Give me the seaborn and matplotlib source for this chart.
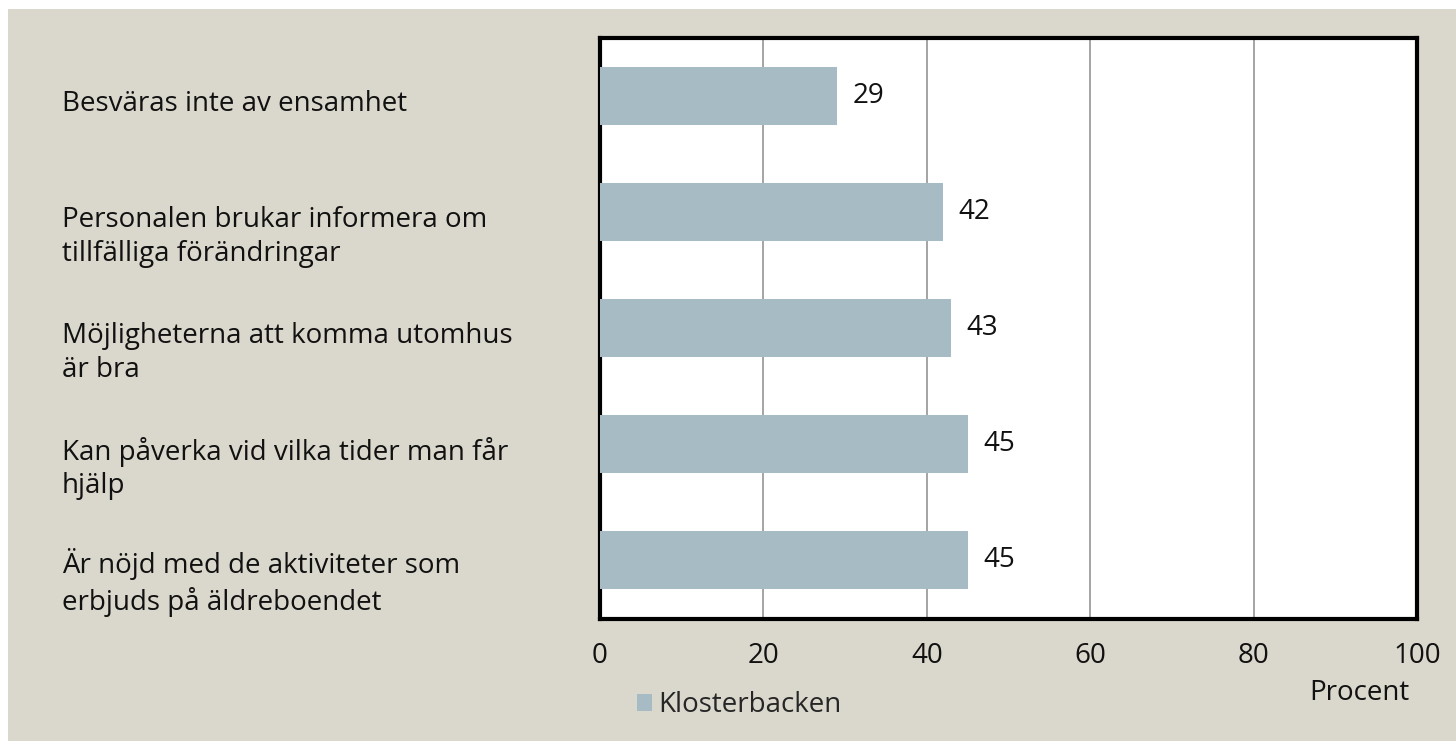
import matplotlib
matplotlib.use("Agg")
import matplotlib.pyplot as plt
import matplotlib.transforms as mtransforms
from matplotlib.patches import Rectangle
import pandas as pd
import seaborn as sns

# data
categories = [
    "Besväras inte av ensamhet",
    "Personalen brukar informera om\ntillfälliga förändringar",
    "Möjligheterna att komma utomhus\när bra",
    "Kan påverka vid vilka tider man får\nhjälp",
    "Är nöjd med de aktiviteter som\nerbjuds på äldreboendet",
]
values = [29, 42, 43, 45, 45]
series_name = "Klosterbacken"
x_ticks = [0, 20, 40, 60, 80, 100]
x_label = "Procent"

BG = "#DAD8CC"
BAR = "#A7BBC5"
FS = 20

sns.set_theme(style="white")
plt.rcParams["font.family"] = ["Open Sans", "DejaVu Sans"]

W, H = 1456, 741
fig = plt.figure(figsize=(W / 100, H / 100), dpi=100, facecolor="white")
# beige panel behind everything (small white margin top/left)
fig.patches.append(Rectangle((8 / W, 0), 1, 1 - 9 / H, transform=fig.transFigure,
                             facecolor=BG, edgecolor="none", zorder=-10))

ax = fig.add_axes([600 / W, 1 - 618.5 / H, 817 / W, 581 / H])
ax.set_facecolor("white")

df = pd.DataFrame({"category": categories, "value": values})
sns.barplot(data=df, x="value", y="category", orient="h", color=BAR,
            width=0.5, saturation=1, label=series_name, ax=ax, zorder=3,
            edgecolor=BAR, linewidth=0)

ax.set_xlim(0, 100)
ax.set_ylim(len(categories) - 0.5, -0.5)
ax.set_xticks(x_ticks)
ax.set_xticklabels([str(t) for t in x_ticks], fontsize=FS, color="#111111")
ax.tick_params(axis="x", length=0, pad=17)
ax.set_yticks([])
ax.set_ylabel("")
ax.set_xlabel("")
ax.xaxis.grid(True, color="#8C8C8C", linewidth=1.1, zorder=0)
ax.yaxis.grid(False)
ax.set_axisbelow(True)
for sp in ax.spines.values():
    sp.set_visible(True)
    sp.set_color("black")
    sp.set_linewidth(3)

# value labels
ax.bar_label(ax.containers[0], labels=[str(v) for v in values], padding=11,
             fontsize=FS, color="#111111")

# category labels, left aligned in the margin; first line sits at the bar,
# extra lines hang below (baseline refers to the last line in matplotlib)
row_px = 581 / len(categories)
line_px = 34
trans = mtransforms.blended_transform_factory(fig.transFigure, ax.transData)
for i, cat in enumerate(categories):
    n_extra = cat.count("\n")
    y = i + 0.13 + n_extra * line_px / row_px
    ax.text(62 / W, y, cat, transform=trans, ha="left", va="baseline",
            fontsize=FS, color="#111111", linespacing=1.27)

# legend
ax.legend(loc="center left", bbox_to_anchor=(637 / W, 1 - 705 / H),
          bbox_transform=fig.transFigure, frameon=False, fontsize=FS,
          handlelength=0.55, handleheight=0.55, handletextpad=0.2,
          borderpad=0, borderaxespad=0)

fig.text(1410 / W, 1 - 693 / H, x_label, ha="right", va="center",
         fontsize=FS, color="#111111")

fig.savefig("out.png", dpi=100, facecolor=fig.get_facecolor())
